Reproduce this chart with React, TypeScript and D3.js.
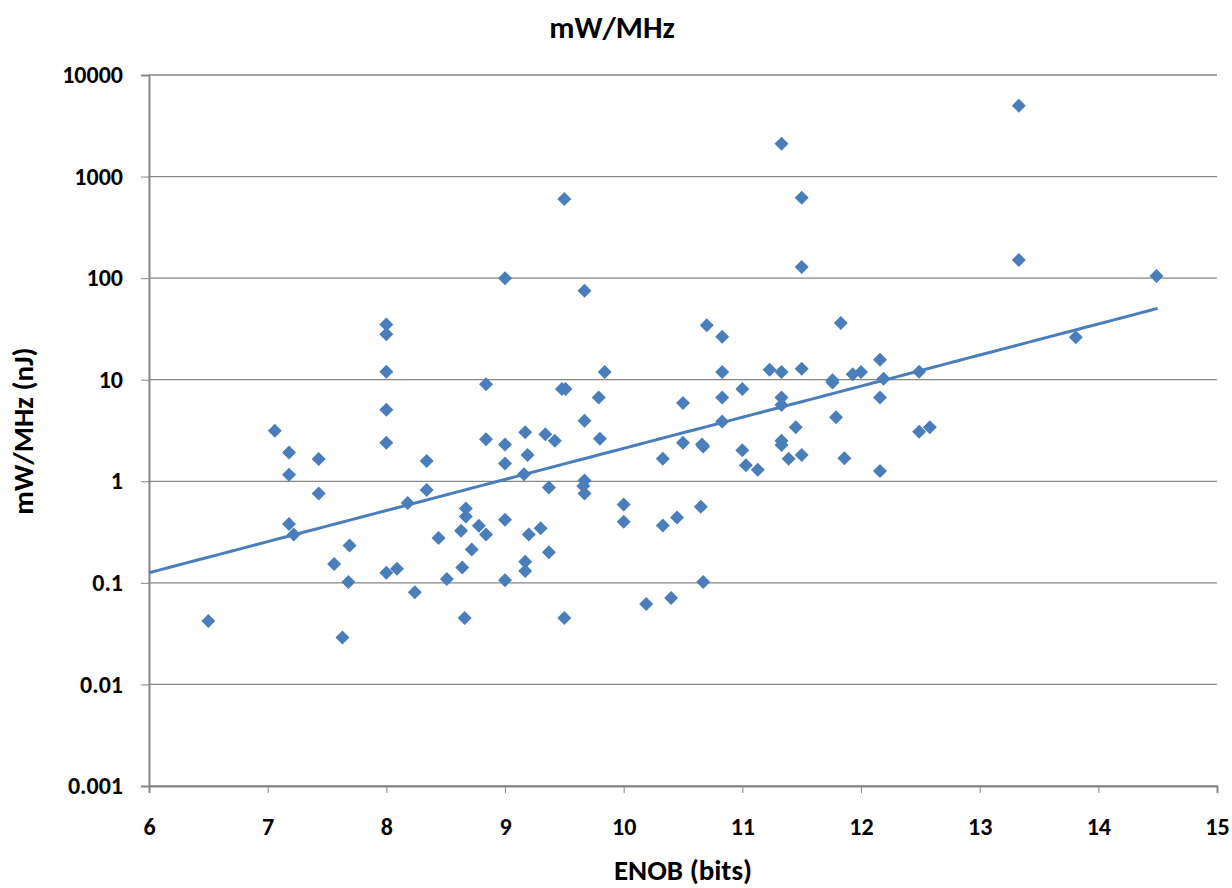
import React, { useEffect, useRef } from "react";
import * as d3 from "d3";

// ENOB (bits) and energy per conversion (mW/MHz = nJ)
const enob = [
  6.5, 7.06, 7.18, 7.18, 7.18, 7.22, 7.43, 7.43, 7.56, 7.63, 7.68, 7.69,
  8.0, 8.0, 8.0, 8.0, 8.0, 8.0, 8.09, 8.18, 8.24, 8.34, 8.34, 8.44, 8.51,
  8.63, 8.64, 8.66, 8.67, 8.67, 8.72, 8.78, 8.84, 8.84, 8.84,
  9.0, 9.0, 9.0, 9.0, 9.0, 9.17, 9.16, 9.17, 9.17, 9.19, 9.2, 9.3, 9.34,
  9.37, 9.37, 9.42, 9.48, 9.51, 9.5, 9.5, 9.67, 9.67, 9.66, 9.67, 9.67,
  9.79, 9.8, 9.84, 10.0, 10.0, 10.19, 10.33, 10.33, 10.4, 10.45, 10.5, 10.5,
  10.65, 10.66, 10.67, 10.67, 10.7, 10.83, 10.83, 10.83, 10.83, 11.0, 11.0,
  11.03, 11.13, 11.23, 11.33, 11.33, 11.33, 11.33, 11.33, 11.33, 11.39, 11.45,
  11.5, 11.5, 11.5, 11.5, 11.76, 11.76, 11.79, 11.83, 11.86, 11.93, 12.0,
  12.16, 12.16, 12.16, 12.19, 12.49, 12.49, 12.58, 13.33, 13.33, 13.81, 14.49,
];
const energy = [
  0.042, 3.15, 1.92, 1.16, 0.38, 0.3, 1.66, 0.76, 0.153, 0.029, 0.102, 0.233,
  35, 28, 12, 5.05, 2.4, 0.126, 0.138, 0.61, 0.081, 1.58, 0.82, 0.277, 0.109,
  0.325, 0.142, 0.045, 0.54, 0.45, 0.213, 0.364, 9.0, 2.6, 0.3,
  100, 2.3, 1.5, 0.417, 0.106, 3.04, 1.17, 0.161, 0.131, 1.81, 0.3, 0.345, 2.9,
  0.87, 0.2, 2.5, 8.1, 8.1, 600, 0.045, 3.95, 1.02, 0.9, 0.76, 75,
  6.7, 2.63, 11.9, 0.59, 0.4, 0.062, 1.67, 0.366, 0.071, 0.44, 5.9, 2.39,
  0.56, 2.3, 2.2, 0.102, 34.4, 26.5, 11.9, 6.7, 3.87, 8.1, 2.02,
  1.44, 1.3, 12.5, 2110, 11.9, 6.7, 5.65, 2.5, 2.28, 1.67, 3.41,
  620, 129, 12.8, 1.81, 9.9, 9.4, 4.28, 36.2, 1.69, 11.3, 11.9,
  15.7, 6.7, 1.26, 10.2, 12.0, 3.08, 3.41, 4990, 151, 26.2, 105,
];

// exponential trendline y = a * e^(b x), drawn from first to last ENOB
const trendA = 0.00183;
const trendB = 0.705;
const trendRange = [6, 14.5];

const xTicks = [6, 7, 8, 9, 10, 11, 12, 13, 14, 15];
const yTicks = [0.001, 0.01, 0.1, 1, 10, 100, 1000, 10000];
const yTickLabels = ["0.001", "0.01", "0.1", "1", "10", "100", "1000", "10000"];

const W = 1232;
const H = 888;
const margin = { top: 75, right: 15, bottom: 102, left: 149 };
const font = "Carlito, 'Liberation Sans Narrow', 'Liberation Sans', Arial, sans-serif";
const blue = "#4a7ebb";
const grey = "#868686";

export default function App() {
  const svgRef = useRef<SVGSVGElement>(null);

  useEffect(() => {
    const svg = d3.select(svgRef.current);
    svg.selectAll("*").remove();

    const x = d3
      .scaleLinear()
      .domain([6, 15])
      .range([margin.left, W - margin.right]);
    const y = d3
      .scaleLog()
      .domain([0.001, 10000])
      .range([H - margin.bottom, margin.top]);

    // horizontal gridlines
    svg
      .append("g")
      .selectAll("line")
      .data(yTicks)
      .join("line")
      .attr("x1", margin.left)
      .attr("x2", W - margin.right)
      .attr("y1", (d) => y(d))
      .attr("y2", (d) => y(d))
      .attr("stroke", grey)
      .attr("stroke-width", 1.3);

    // y axis
    const yAxis = svg
      .append("g")
      .attr("transform", `translate(${margin.left},0)`)
      .call(
        d3
          .axisLeft(y)
          .tickValues(yTicks)
          .tickSize(8)
          .tickPadding(18)
          .tickFormat((d, i) => yTickLabels[i])
      );
    yAxis.select(".domain").attr("stroke", grey).attr("stroke-width", 2);
    yAxis.selectAll(".tick line").attr("stroke", grey);
    yAxis
      .selectAll(".tick text")
      .style("font-family", font)
      .style("font-size", "24px")
      .style("font-weight", "bold")
      .attr("fill", "#000");

    // x axis
    const xAxis = svg
      .append("g")
      .attr("transform", `translate(0,${H - margin.bottom})`)
      .call(d3.axisBottom(x).tickValues(xTicks).tickSize(7).tickPadding(25));
    xAxis.select(".domain").attr("stroke", grey).attr("stroke-width", 2);
    xAxis.selectAll(".tick line").attr("stroke", grey);
    xAxis
      .selectAll(".tick text")
      .style("font-family", font)
      .style("font-size", "24px")
      .style("font-weight", "bold")
      .attr("fill", "#000");

    // points
    const pts = enob.map((e, i) => [e, energy[i]] as [number, number]);
    const diamond = d3.symbol().type(d3.symbolSquare).size(98);
    svg
      .append("g")
      .selectAll("path")
      .data(pts)
      .join("path")
      .attr("d", diamond)
      .attr("transform", (d) => `translate(${x(d[0])},${y(d[1])}) rotate(45)`)
      .attr("fill", blue);

    // trendline
    const trendX = d3.range(trendRange[0], trendRange[1] + 0.001, 0.1);
    const line = d3
      .line<number>()
      .x((d) => x(d))
      .y((d) => y(trendA * Math.exp(trendB * d)));
    svg
      .append("path")
      .datum(trendX)
      .attr("d", line)
      .attr("fill", "none")
      .attr("stroke", blue)
      .attr("stroke-width", 3);

    // titles
    const label = (sel: d3.Selection<SVGTextElement, unknown, null, undefined>, size: number) =>
      sel
        .attr("text-anchor", "middle")
        .style("font-family", font)
        .style("font-size", `${size}px`)
        .style("font-weight", "bold");

    label(svg.append("text").attr("x", 612).attr("y", 38), 31).text("mW/MHz");
    label(svg.append("text").attr("x", 683).attr("y", 880), 29).text("ENOB (bits)");
    label(
      svg.append("text").attr("transform", `translate(33,431) rotate(-90)`),
      29
    ).text("mW/MHz (nJ)");
  }, []);

  return (
    <svg
      ref={svgRef}
      width={W}
      height={H}
      style={{ position: "absolute", left: 0, top: 0, background: "#fff" }}
    />
  );
}
